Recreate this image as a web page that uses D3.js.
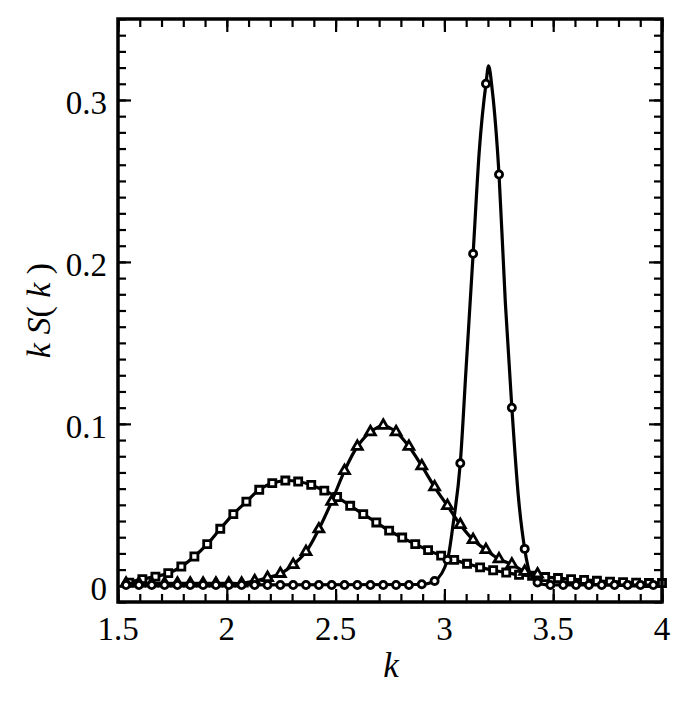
<!DOCTYPE html>
<html lang="en">
<head>
<meta charset="utf-8">
<title>k S(k)</title>
<script src="https://d3js.org/d3.v7.min.js"></script>
<style>
  body { margin: 0; background: #fff; }
  text { font-family: "Liberation Serif", "DejaVu Serif", serif; fill: #000; }
</style>
</head>
<body>
<div id="chart"></div>
<script>

// --- data ---
var squareK = [1.552, 1.612, 1.672, 1.731, 1.791, 1.851, 1.910, 1.970, 2.030, 2.090,
               2.149, 2.209, 2.269, 2.328, 2.388, 2.448, 2.507, 2.567, 2.627, 2.687,
               2.746, 2.806, 2.866, 2.925, 2.985, 3.045, 3.104, 3.164, 3.224, 3.284,
               3.343, 3.403, 3.463, 3.522, 3.582, 3.642, 3.701, 3.761, 3.821, 3.881,
               3.940, 4.000]
var squareS = [0.0020, 0.0041, 0.0057, 0.0078, 0.0119, 0.0181, 0.0257, 0.0352, 0.0443, 0.0520,
               0.0593, 0.0634, 0.0650, 0.0644, 0.0623, 0.0588, 0.0548, 0.0494, 0.0443, 0.0391,
               0.0341, 0.0298, 0.0257, 0.0220, 0.0186, 0.0160, 0.0136, 0.0114, 0.0096, 0.0082,
               0.0068, 0.0062, 0.0054, 0.0048, 0.0041, 0.0037, 0.0031, 0.0026, 0.0023, 0.0020,
               0.0017, 0.0017]

var circleK = [1.537, 1.596, 1.655, 1.714, 1.773, 1.832, 1.891, 1.950, 2.009, 2.068,
               2.128, 2.187, 2.246, 2.305, 2.364, 2.423, 2.482, 2.541, 2.600, 2.660,
               2.719, 2.778, 2.837, 2.896, 2.955, 3.014, 3.073, 3.132, 3.191, 3.251,
               3.310, 3.369, 3.428, 3.487, 3.546, 3.605, 3.664, 3.723, 3.782, 3.842,
               3.901, 3.960]
var circleS = [0.0005, 0.0005, 0.0005, 0.0005, 0.0005, 0.0005, 0.0005, 0.0005, 0.0005, 0.0005,
               0.0005, 0.0005, 0.0005, 0.0005, 0.0005, 0.0005, 0.0005, 0.0005, 0.0005, 0.0005,
               0.0005, 0.0005, 0.0005, 0.0010, 0.0030, 0.0160, 0.0757, 0.2050, 0.3100, 0.2540,
               0.1100, 0.0228, 0.0020, 0.0005, 0.0005, 0.0005, 0.0005, 0.0005, 0.0005, 0.0005,
               0.0005, 0.0005]

// the solid curve through the circles peaks above the highest point
var circleFitK = [1.537, 2.896, 2.955, 3.014, 3.040, 3.073, 3.100, 3.132, 3.160, 3.191,
                  3.203, 3.220, 3.251, 3.280, 3.310, 3.340, 3.369, 3.395, 3.428, 3.470, 3.960]
var circleFitS = [0.0005, 0.0008, 0.0030, 0.0160, 0.0380, 0.0757, 0.1350, 0.2050, 0.2680, 0.3100,
                  0.3210, 0.3060, 0.2540, 0.1750, 0.1100, 0.0550, 0.0228, 0.0070, 0.0020, 0.0006, 0.0005]

var triangleK = circleK.slice(0, 33)
var triangleS = [0.0015, 0.0015, 0.0015, 0.0015, 0.0015, 0.0015, 0.0015, 0.0015, 0.0015, 0.0015,
                 0.0030, 0.0050, 0.0075, 0.0130, 0.0210, 0.0350, 0.0520, 0.0710, 0.0860, 0.0950,
                 0.0990, 0.0950, 0.0860, 0.0740, 0.0610, 0.0494, 0.0377, 0.0284, 0.0222, 0.0165,
                 0.0133, 0.0088, 0.0072]

var xTickLabels = [1.5, 2, 2.5, 3, 3.5, 4]
var yTickLabels = [0, 0.1, 0.2, 0.3]

// --- layout ---
var W = 692, H = 701
var frame = {left: 118, right: 662, top: 19, bottom: 602}

var svg = d3.select("#chart")
            .append("svg")
            .attr("width", W)
            .attr("height", H)

var x = d3.scaleLinear().domain([1.5, 4]).range([frame.left, frame.right])
var y = d3.scaleLinear().domain([-0.01, 0.35]).range([frame.bottom, frame.top])

function zip(ks, ss){
  return ks.map(function(k, i){ return {k: k, s: ss[i]} })
}

// ticks (all pointing inwards)
function tickAxis(axis, transform, values, size){
  var g = svg.append("g")
     .attr("transform", transform)
     .call(axis.tickValues(values).tickSize(size).tickFormat(""))
  g.select(".domain").remove()
  g.selectAll("line").attr("stroke", "#000").attr("stroke-width", 2.2)
}
var xMinor = x.ticks(25), xMajor = xTickLabels
var yMinor = y.ticks(36), yMajor = yTickLabels

tickAxis(d3.axisBottom(x), "translate(0," + frame.bottom + ")", xMinor, -8)
tickAxis(d3.axisBottom(x), "translate(0," + frame.bottom + ")", xMajor, -13)
tickAxis(d3.axisTop(x), "translate(0," + frame.top + ")", xMinor, -8)
tickAxis(d3.axisTop(x), "translate(0," + frame.top + ")", xMajor, -13)
tickAxis(d3.axisLeft(y), "translate(" + frame.left + ",0)", yMinor, -8)
tickAxis(d3.axisLeft(y), "translate(" + frame.left + ",0)", yMajor, -13)
tickAxis(d3.axisRight(y), "translate(" + frame.right + ",0)", yMinor, -8)
tickAxis(d3.axisRight(y), "translate(" + frame.right + ",0)", yMajor, -13)

// tick labels
svg.append("g").selectAll("text")
   .data(xTickLabels)
   .enter()
   .append("text")
   .attr("x", function(d){ return x(d) })
   .attr("y", frame.bottom + 38)
   .attr("text-anchor", "middle")
   .attr("font-size", "33px")
   .text(function(d){ return String(d) })

svg.append("g").selectAll("text")
   .data(yTickLabels)
   .enter()
   .append("text")
   .attr("x", frame.left - 11)
   .attr("y", function(d){ return y(d) + 14 })
   .attr("text-anchor", "end")
   .attr("font-size", "33px")
   .text(function(d){ return String(d) })

// axis titles
svg.append("text")
   .attr("x", 391)
   .attr("y", 677)
   .attr("text-anchor", "middle")
   .attr("font-size", "35px")
   .attr("font-style", "italic")
   .text("k")

var yl = svg.append("text")
   .attr("transform", "translate(50," + ((frame.top + frame.bottom) / 2) + ") rotate(-90)")
   .attr("text-anchor", "middle")
   .attr("font-size", "34px")
yl.append("tspan").attr("font-style", "italic").text("k S")
yl.append("tspan").text("(")
yl.append("tspan").attr("font-style", "italic").text(" k ")
yl.append("tspan").text(")")

// curves + markers
var plot = svg.append("g")

var line = d3.line()
             .x(function(d){ return x(d.k) })
             .y(function(d){ return y(d.s) })

function drawLine(data, curve){
  plot.append("path")
      .datum(data)
      .attr("fill", "none")
      .attr("stroke", "#000")
      .attr("stroke-width", 3.2)
      .attr("stroke-linejoin", "round")
      .attr("d", line.curve(curve))
}

function drawMarkers(data, type, size){
  plot.append("g")
      .selectAll("path")
      .data(data)
      .enter()
      .append("path")
      .attr("transform", function(d){ return "translate(" + x(d.k) + "," + y(d.s) + ")" })
      .attr("d", d3.symbol().type(type).size(size))
      .attr("fill", "#fff")
      .attr("stroke", "#000")
      .attr("stroke-width", 2.8)
}

drawLine(zip(squareK, squareS), d3.curveCatmullRom)
drawMarkers(zip(squareK, squareS), d3.symbolSquare, 50)

drawLine(zip(triangleK, triangleS), d3.curveCatmullRom)
drawMarkers(zip(triangleK, triangleS), d3.symbolTriangle, 42)

drawLine(zip(circleFitK, circleFitS), d3.curveMonotoneX)
drawMarkers(zip(circleK, circleS), d3.symbolCircle, 40)

// frame
svg.append("rect")
   .attr("x", frame.left)
   .attr("y", frame.top)
   .attr("width", frame.right - frame.left)
   .attr("height", frame.bottom - frame.top)
   .attr("fill", "none")
   .attr("stroke", "#000")
   .attr("stroke-width", 3.5)

</script>
</body>
</html>
